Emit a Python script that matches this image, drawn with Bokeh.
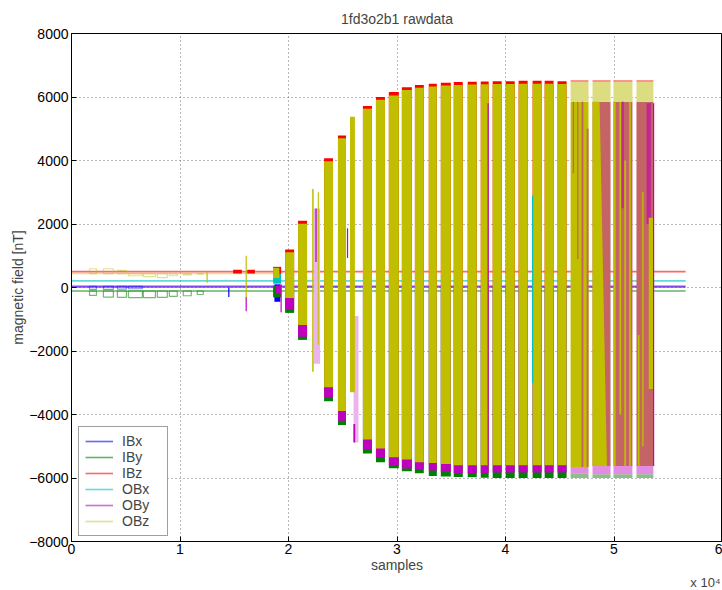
from bokeh.plotting import figure
from bokeh.models import ColumnDataSource, Range1d, FixedTicker, Legend, LegendItem, Label
from bokeh.embed import file_html
from bokeh.resources import INLINE

# ---------------- data ----------------
series = ["IBx", "IBy", "IBz", "OBx", "OBy", "OBz"]
colors = ["#0000ff", "#008000", "#ff0000", "#00bfbf", "#bf00bf", "#bfbf00"]
baseline_level = [40, -110, 500, 210, 10, 440]
baseline_end = [5.66, 5.66, 5.66, 5.66, 5.66, 1.95]

# early small pulses (samples x 1e4)
pulse_x0 = [0.166, 0.294, 0.423, 0.524, 0.662, 0.791, 0.902, 1.030, 1.159]
pulse_x1 = [0.230, 0.386, 0.506, 0.653, 0.773, 0.883, 0.975, 1.104, 1.214]
iby_pulse_low = [-250, -300, -310, -320, -320, -310, -280, -260, -220]
ibx_pulse_low = [-60, -60, -50, -40, -40, -40, -30, -30, -20]
obz_pulse_level = [590, 590, 540, 370, 340, 310, 370, 400, 420]

# regular calibration bursts
burst_x0 = [1.969, 2.088, 2.328, 2.456, 2.686, 2.806, 2.925, 3.045, 3.165, 3.293,
            3.404, 3.523, 3.652, 3.772, 3.882, 4.002, 4.121, 4.250, 4.361, 4.480]
burst_x1 = [2.052, 2.171, 2.410, 2.530, 2.769, 2.889, 3.017, 3.137, 3.247, 3.367,
            3.496, 3.606, 3.735, 3.845, 3.965, 4.085, 4.204, 4.333, 4.443, 4.563]
ibz_max = [1200, 2100, 4070, 4790, 5720, 6000, 6160, 6310, 6375, 6420,
           6450, 6470, 6480, 6490, 6500, 6500, 6510, 6510, 6510, 6500]
obz_max = [1110, 2010, 3980, 4700, 5630, 5910, 6050, 6220, 6290, 6330,
           6360, 6380, 6390, 6400, 6410, 6410, 6420, 6420, 6420, 6410]
obz_min = [-330, -1180, -3140, -3890, -4790, -5070, -5350, -5420, -5500, -5530,
           -5560, -5600, -5600, -5600, -5600, -5600, -5600, -5600, -5600, -5600]
oby_min = [-700, -1550, -3450, -4200, -5100, -5350, -5600, -5700, -5720, -5760,
           -5800, -5850, -5850, -5850, -5830, -5830, -5830, -5830, -5830, -5830]
iby_min = [-800, -1650, -3580, -4330, -5230, -5500, -5690, -5790, -5850, -5940,
           -5950, -5970, -5980, -5990, -6000, -6000, -6000, -6000, -6000, -6000]

YEL = "#bfbf00"; MAG = "#bf00bf"; RED = "#ff0000"; BLU = "#0000ff"; GRN = "#008000"; CYN = "#00bfbf"
PALE_Y = "#dcdc80"; PINK = "#e48ce4"; PALE_G = "#88c088"; BROWN = "#c46464"; PINK_L = "#ecb4ec"
RED_L = "#ff7070"; MAG_D = "#c02890"

# irregular / mixed bursts (left, right, bottom, top, colour)
irr_left = [1.870, 1.858, 1.858, 1.858, 1.885, 1.858, 1.490, 1.620,
            2.232, 2.245, 2.218, 2.270,
            2.600, 2.567, 2.598,
            4.600, 4.600, 4.600, 4.600, 4.600, 4.620, 4.660, 4.700, 4.748,
            4.802, 4.802, 4.802, 4.802, 4.802,
            4.995, 4.995, 4.995, 4.995, 4.995, 4.995, 5.050, 5.095, 5.140, 5.070,
            5.207, 5.207, 5.207, 5.207, 5.207, 5.300, 5.320, 5.220, 5.260]
irr_right = [1.925, 1.932, 1.932, 1.932, 1.932, 1.915, 1.570, 1.690,
             2.291, 2.262, 2.232, 2.280,
             2.645, 2.612, 2.615,
             4.765, 4.765, 4.765, 4.765, 4.765, 4.632, 4.672, 4.718, 4.765,
             4.968, 4.968, 4.968, 4.968, 4.968,
             5.170, 5.170, 5.170, 5.170, 5.170, 5.015, 5.066, 5.110, 5.155, 5.090,
             5.363, 5.363, 5.363, 5.363, 5.363, 5.340, 5.363, 5.235, 5.272]
irr_bottom = [-450, -310, 430, 120, -200, 300, 440, 440,
              -2400, 800, -2650, -1800,
              -4880, -3300, -4880,
              -6000, -5850, -5650, 5850, 6480, 3600, 900, -5650, -5650,
              -6000, -5880, -5620, 5850, 6480,
              -6000, -5880, -5620, 5850, 6480, -5620, -4000, -5620, -5620, 2500,
              -6000, -5880, -5620, 5850, 6480, 2000, -3200, -5620, -5000]
irr_top = [100, 60, 650, 430, 60, 620, 560, 560,
           2490, 2490, 3100, 3000,
           -900, 5380, -4300,
           -5850, -5650, 5850, 6480, 6530, 5850, 5850, 5850, 5000,
           -5880, -5620, 5850, 6480, 6530,
           -5880, -5620, 5850, 6480, 6530, 5850, 5850, 4000, 5850, 5850,
           -5880, -5620, 5850, 6480, 6530, 5800, 2200, -1500, 3000]
irr_color = [BLU, GRN, RED, CYN, MAG, YEL, RED, RED,
             PINK_L, "#c040c0", YEL, YEL,
             PINK_L, YEL, MAG,
             PALE_G, PINK, YEL, PALE_Y, RED_L, BROWN, BROWN, BROWN, BROWN,
             PALE_G, PINK, BROWN, PALE_Y, RED_L,
             PALE_G, PINK, BROWN, PALE_Y, RED_L, YEL, YEL, YEL, YEL, MAG_D,
             PALE_G, PINK, BROWN, PALE_Y, RED_L, MAG_D, YEL, YEL, YEL]

# yellow wedge inside the burst near 4.9e4
wedge_x = [4.802, 4.867, 4.935, 4.802]
wedge_y = [5850, 5850, -5620, -5620]

# isolated spikes
spike_x = [1.61, 1.61, 1.45, 1.932, 2.544, 4.250, 3.840, 5.365, 1.25]
spike_y0 = [1000, -300, 0, 100, 930, -3000, -5600, -5620, 150]
spike_y1 = [-300, -750, -300, -780, 1870, 2900, 5800, 5800, 500]
spike_c = [YEL, MAG, BLU, MAG, MAG, CYN, MAG, MAG, YEL]

x_ticks = [0, 1, 2, 3, 4, 5, 6]
y_ticks = [-8000, -6000, -4000, -2000, 0, 2000, 4000, 6000, 8000]

FONT = "Liberation Sans"

# ---------------- figure ----------------
p = figure(width=722, height=590, output_backend="svg", toolbar_location=None,
           x_range=Range1d(0, 6), y_range=Range1d(-8000, 8000),
           min_border_left=71, min_border_right=0, min_border_top=33, min_border_bottom=40,
           title="1fd3o2b1 rawdata")
p.title.align = "center"
p.title.text_font = FONT
p.title.text_font_size = "14px"
p.title.text_font_style = "normal"
p.title.standoff = 13
p.background_fill_color = "white"
p.border_fill_color = "white"
p.outline_line_color = "black"
p.outline_line_width = 1

for ax in (p.xaxis[0], p.yaxis[0]):
    ax.major_label_text_font = FONT
    ax.major_label_text_font_size = "14px"
    ax.major_label_text_color = "black"
    ax.axis_label_text_font = FONT
    ax.axis_label_text_font_size = "14px"
    ax.axis_label_text_font_style = "normal"
    ax.axis_line_color = "black"
    ax.major_tick_in = 5
    ax.major_tick_out = 0
    ax.minor_tick_line_color = None
    ax.major_tick_line_color = "black"
p.xaxis.ticker = FixedTicker(ticks=x_ticks)
p.yaxis.ticker = FixedTicker(ticks=y_ticks)
p.xaxis.axis_label = "samples"
p.yaxis.axis_label = "magnetic field [nT]"
p.xaxis.major_label_standoff = 2
p.yaxis.major_label_standoff = 3
p.xaxis.axis_label_standoff = 0
p.yaxis.axis_label_standoff = 0
p.grid.grid_line_color = "#707070"
p.grid.grid_line_dash = "1 3"
p.grid.grid_line_width = 1

# baselines
line_renderers = []
for i, name in enumerate(series):
    r = p.line([0, baseline_end[i]], [baseline_level[i], baseline_level[i]],
               line_color=colors[i], line_width=1.6, line_alpha=0.6 if i != 5 else 0.45)
    line_renderers.append(r)

# early pulse outlines
p.quad(left=pulse_x0, right=pulse_x1, bottom=iby_pulse_low, top=[baseline_level[1]] * len(pulse_x0),
       fill_alpha=0, line_color=GRN, line_alpha=0.55, line_width=1.2)
p.quad(left=pulse_x0[:4], right=pulse_x1[:4], bottom=ibx_pulse_low[:4], top=[baseline_level[0]] * 4,
       fill_alpha=0, line_color=BLU, line_alpha=0.45, line_width=1.2)
p.quad(left=pulse_x0, right=pulse_x1,
       bottom=[min(v, baseline_level[5]) for v in obz_pulse_level],
       top=[max(v, baseline_level[5]) for v in obz_pulse_level],
       fill_alpha=0, line_color=YEL, line_alpha=0.45, line_width=1.2)

# regular bursts, in MATLAB plotting order
n = len(burst_x0)
src = ColumnDataSource(dict(l=burst_x0, r=burst_x1, ibz=ibz_max, obzt=obz_max, obzb=obz_min,
                            oby=oby_min, iby=iby_min, zero=[0] * n))
p.quad(left="l", right="r", bottom="iby", top="zero", source=src, fill_color=GRN, line_color=None)
p.quad(left="l", right="r", bottom="zero", top="ibz", source=src, fill_color=RED, line_color=None)
p.quad(left="l", right="r", bottom="oby", top="zero", source=src, fill_color=MAG, line_color=None)
p.quad(left="l", right="r", bottom="obzb", top="obzt", source=src, fill_color=YEL, line_color=None)

# irregular bursts
isrc = ColumnDataSource(dict(l=irr_left, r=irr_right, b=irr_bottom, t=irr_top, c=irr_color))
p.quad(left="l", right="r", bottom="b", top="t", fill_color="c", line_color=None, source=isrc)
p.patch(wedge_x, wedge_y, fill_color=YEL, line_color=None)

# spikes
p.segment(x0=spike_x, y0=spike_y0, x1=spike_x, y1=spike_y1, line_color=spike_c, line_width=1.2)

# legend
legend = Legend(items=[LegendItem(label=s, renderers=[r]) for s, r in zip(series, line_renderers)],
                location=(7, 5), margin=0, padding=6, spacing=0,
                glyph_width=28, glyph_height=16, label_height=16, label_width=39, label_standoff=9,
                label_text_font=FONT, label_text_font_size="14px",
                border_line_color="#404040", border_line_width=1,
                background_fill_color="white", background_fill_alpha=1)
p.add_layout(legend, "center")

# x 10^4 multiplier, bottom right (own lower side panel, canvas units)
p.add_layout(Label(x=720, y=582, x_units="canvas", y_units="canvas", text="x 10\u2074",
                   text_font=FONT, text_font_size="13px", text_align="right",
                   text_baseline="middle"), "below")

open("out.html", "w").write(file_html(p, INLINE))
